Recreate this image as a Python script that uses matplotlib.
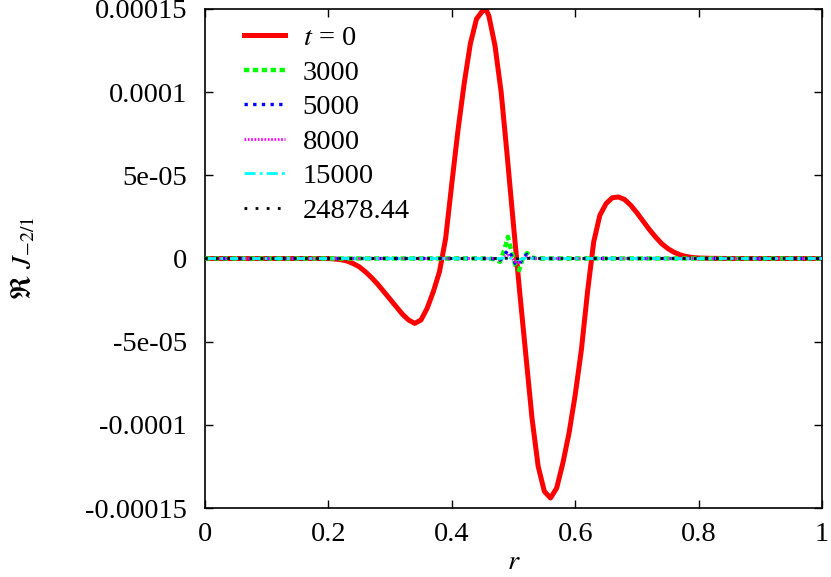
import matplotlib
matplotlib.use("Agg")
import matplotlib.pyplot as plt
import numpy as np

plt.rcParams['font.family'] = ['Liberation Serif', 'DejaVu Serif']
plt.rcParams['mathtext.fontset'] = 'stix'

# t = 0 profile (values in 1e-5)
r0 = [0.0, 0.1, 0.2, 0.21, 0.22, 0.23, 0.24, 0.25, 0.26, 0.27, 0.28, 0.29, 0.30,
      0.31, 0.32, 0.33, 0.34, 0.35, 0.36, 0.37, 0.38, 0.39, 0.40, 0.41, 0.42,
      0.43, 0.44, 0.45, 0.455, 0.46, 0.47, 0.48, 0.49, 0.50, 0.51, 0.52, 0.53,
      0.54, 0.55, 0.56, 0.57, 0.58, 0.59, 0.60, 0.61, 0.62, 0.63, 0.64, 0.65,
      0.66, 0.67, 0.68, 0.69, 0.70, 0.71, 0.72, 0.73, 0.74, 0.75, 0.76, 0.77,
      0.78, 0.79, 0.80, 0.82, 0.85, 0.9, 1.0]
v0 = [0.0, 0.0, 0.0, -0.03, -0.07, -0.15, -0.3, -0.5, -0.8, -1.15, -1.55, -2.0, -2.45,
      -2.9, -3.35, -3.7, -3.9, -3.7, -3.0, -2.0, -0.8, 1.2, 4.5, 7.7, 10.5,
      12.9, 14.4, 14.9, 15.0, 14.6, 12.8, 10.0, 6.1, 2.0, -2.0, -5.8, -9.6,
      -12.5, -14.0, -14.4, -13.8, -12.3, -10.5, -8.2, -5.5, -2.0, 1.0, 2.6, 3.3,
      3.65, 3.7, 3.55, 3.2, 2.75, 2.25, 1.75, 1.3, 0.9, 0.6, 0.38, 0.22,
      0.12, 0.06, 0.03, 0.01, 0.0, 0.0, 0.0]

# later times: perturbation localized near r ~ 0.5 (values in 1e-5)
r1 = [0.0, 0.46, 0.47, 0.478, 0.485, 0.491, 0.497, 0.503, 0.509, 0.515, 0.522, 0.53, 0.54, 1.0]
v3000 = [0.0, 0.0, -0.05, -0.2, 0.5, 1.3, 0.4, -0.4, -0.7, 0.0, 0.33, 0.05, 0.0, 0.0]
v5000 = [0.0, 0.0, -0.02, -0.1, 0.2, 0.5, 0.15, -0.3, -0.4, 0.05, 0.25, 0.03, 0.0, 0.0]
v8000 = [0.0, 0.0, 0.0, -0.05, 0.1, 0.2, 0.05, -0.2, -0.25, 0.0, 0.1, 0.0, 0.0, 0.0]
v15000 = [0.0, 0.0, 0.0, 0.0, 0.03, 0.06, 0.0, -0.06, -0.08, 0.0, 0.03, 0.0, 0.0, 0.0]
v24878 = [0.0, 0.0, 0.0, 0.0, 0.0, 0.02, 0.0, -0.02, -0.02, 0.0, 0.01, 0.0, 0.0, 0.0]

labels = ['$t$ = 0', '3000', '5000', '8000', '15000', '24878.44']

yticks = [1.5e-4, 1e-4, 5e-5, 0, -5e-5, -1e-4, -1.5e-4]
yticklabels = ['0.00015', '0.0001', '5e-05', '0', '-5e-05', '-0.0001', '-0.00015']
xticks = [0, 0.2, 0.4, 0.6, 0.8, 1]
xticklabels = ['0', '0.2', '0.4', '0.6', '0.8', '1']

FS = 20.5

fig = plt.figure(figsize=(8.31, 5.77), dpi=100)
ax = fig.add_axes([205/831, 1-508/577, (822-205)/831, (508-9)/577])

s = 1e-5
ax.plot(r0, np.array(v0)*s, color='#ff0000', lw=3.6, label=labels[0], zorder=2)
ax.plot(r1, np.array(v3000)*s, color='#00ff00', lw=3.2, ls=(0, (1.2, 0.8)), label=labels[1], zorder=3)
ax.plot(r1, np.array(v5000)*s, color='#0000ff', lw=2.4, ls=(0, (1, 1.6)), label=labels[2], zorder=4)
ax.plot(r1, np.array(v8000)*s, color='#ff00ff', lw=2.0, ls=(0, (0.6, 0.6)), label=labels[3], zorder=5)
ax.plot(r1, np.array(v15000)*s, color='#00ffff', lw=2.0, ls=(0, (4, 1.5, 1, 1.5)), label=labels[4], zorder=6)
ax.plot(r1, np.array(v24878)*s, color='#000000', lw=2.0, ls=(0, (1, 3)), label=labels[5], zorder=7)

ax.set_xlim(0, 1)
ax.set_ylim(-1.5e-4, 1.5e-4)
ax.set_xticks(xticks)
ax.set_xticklabels(xticklabels)
ax.set_yticks(yticks)
ax.set_yticklabels(yticklabels)
ax.tick_params(direction='in', top=True, right=True, length=6, width=1,
               labelsize=FS)
ax.tick_params(axis='y', pad=13)
ax.tick_params(axis='x', pad=10)
for sp in ax.spines.values():
    sp.set_linewidth(1.2)

ax.set_xlabel('$r$', fontsize=FS, labelpad=2)
ax.set_ylabel(r'$\Re\ J_{-2/1}$', fontsize=FS, labelpad=34)

ax.legend(loc='upper left', frameon=False, fontsize=FS, handlelength=1.45,
          handletextpad=0.6, labelspacing=0.3, borderaxespad=0.0,
          bbox_to_anchor=(0.045, 0.99))

fig.savefig('out.png', dpi=100)
